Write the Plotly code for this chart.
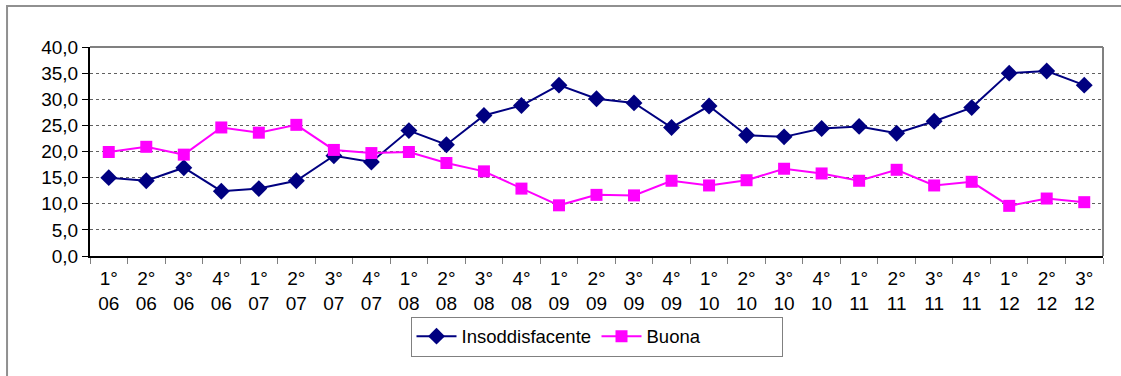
import plotly.graph_objects as go

quarters = ["1°", "2°", "3°", "4°", "1°", "2°", "3°", "4°", "1°", "2°", "3°", "4°",
            "1°", "2°", "3°", "4°", "1°", "2°", "3°", "4°", "1°", "2°", "3°", "4°",
            "1°", "2°", "3°"]
years = ["06"] * 4 + ["07"] * 4 + ["08"] * 4 + ["09"] * 4 + ["10"] * 4 + ["11"] * 4 + ["12"] * 3
categories = [f"{q}<br>{y}" for q, y in zip(quarters, years)]

insoddisfacente = [15.0, 14.4, 16.9, 12.4, 12.9, 14.4, 19.2, 18.0,
                   24.0, 21.3, 26.9, 28.8, 32.7, 30.1, 29.3, 24.6,
                   28.7, 23.1, 22.8, 24.4, 24.8, 23.5, 25.8, 28.4,
                   35.0, 35.4, 32.7]
buona = [19.9, 20.9, 19.4, 24.6, 23.6, 25.1, 20.3, 19.7,
         19.9, 17.8, 16.2, 12.9, 9.7, 11.7, 11.6, 14.4,
         13.5, 14.5, 16.7, 15.8, 14.4, 16.5, 13.5, 14.2,
         9.6, 11.0, 10.3]

y_ticks = [0, 5, 10, 15, 20, 25, 30, 35, 40]

fig = go.Figure()
fig.add_trace(go.Scatter(
    x=categories, y=insoddisfacente, name="Insoddisfacente", mode="lines+markers",
    line=dict(color="#000080", width=2),
    marker=dict(symbol="diamond", size=13, color="#000080"),
))
fig.add_trace(go.Scatter(
    x=categories, y=buona, name="Buona", mode="lines+markers",
    line=dict(color="#FF00FF", width=2),
    marker=dict(symbol="square", size=12, color="#FF00FF"),
))

font = "Liberation Sans, Arial, sans-serif"
fig.update_layout(
    width=1121, height=376,
    margin=dict(l=90, r=18, t=47, b=120),
    paper_bgcolor="white", plot_bgcolor="white",
    separators=",.",
    font=dict(family=font, size=19, color="black"),
    showlegend=True,
    legend=dict(
        orientation="h", x=0.5, xanchor="center", y=-0.29, yanchor="top",
        bordercolor="#808080", borderwidth=1, font=dict(size=18.5),
        itemwidth=40, entrywidth=130, entrywidthmode="pixels",
    ),
    xaxis=dict(
        type="category", range=[-0.5, len(categories) - 0.5],
        showline=True, linecolor="black", linewidth=2,
        ticks="outside", tickson="boundaries", ticklen=6, tickcolor="#808080",
        showgrid=False, tickfont=dict(size=19), ticklabelstandoff=4,
    ),
    yaxis=dict(
        range=[0, 40], tickvals=y_ticks, tickformat=".1f",
        showline=True, linecolor="black", linewidth=2,
        ticks="outside", ticklen=6, tickcolor="black",
        showgrid=True, gridcolor="#606060", griddash="dot", gridwidth=1,
        zeroline=False, tickfont=dict(size=19),
    ),
    shapes=[
        dict(type="line", xref="paper", yref="paper", x0=0, x1=1, y0=1, y1=1,
             line=dict(color="#808080", width=2)),
        dict(type="line", xref="paper", yref="paper", x0=1, x1=1, y0=0, y1=1,
             line=dict(color="#808080", width=2)),
        dict(type="rect", xref="paper", yref="paper", x0=-0.0819, x1=1.2,
             y0=-1.0, y1=1.196, line=dict(color="#909090", width=2)),
    ],
)

fig.write_html("out.html")
